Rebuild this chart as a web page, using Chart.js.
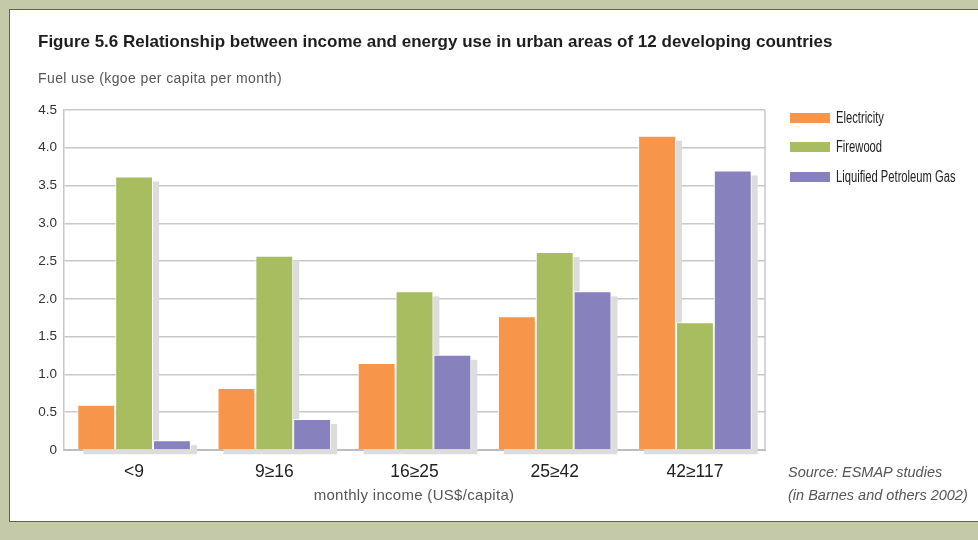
<!DOCTYPE html>
<html><head><meta charset="utf-8">
<script src="https://cdn.jsdelivr.net/npm/chart.js@4"></script>
<style>
html,body{margin:0;padding:0;background:#c4c9aa;width:978px;height:540px;overflow:hidden;}
#panel{position:absolute;left:9px;top:9px;width:990px;height:511px;background:#fff;border:1.5px solid #5b6a2e;}
#c{position:absolute;left:0;top:0;}
.t{position:absolute;white-space:nowrap;}
#title{left:38px;top:32px;font:bold 17px "Liberation Sans",Arial,sans-serif;color:#1e1e1e;}
#ytitle{left:38px;top:70px;font:14px "Liberation Sans",sans-serif;letter-spacing:0.4px;color:#555;}
#xtitle{left:414px;top:486px;transform:translateX(-50%);font:15px "Liberation Sans",sans-serif;letter-spacing:0.3px;color:#555;}
.lg{left:790px;font:16px "Liberation Sans",sans-serif;color:#222;}
.sw{display:inline-block;width:40px;height:10px;margin-right:6px;vertical-align:0px;}
.lt{display:inline-block;transform:scaleX(0.7);transform-origin:left center;}
#src{left:788px;top:461px;font:italic 14.5px "Liberation Sans",sans-serif;color:#555;line-height:23px;}
</style></head>
<body>
<div id="panel"></div>
<canvas id="c" width="978" height="540"></canvas>
<div class="t" id="title">Figure 5.6 Relationship between income and energy use in urban areas of 12 developing countries</div>
<div class="t" id="ytitle">Fuel use (kgoe per capita per month)</div>
<div class="t" id="xtitle">monthly income (US$/capita)</div>
<div id="legend"></div>
<div class="t" id="src">Source: ESMAP studies<br>(in Barnes and others 2002)</div>
<script>
const categories = ["<9", "9\u226516", "16\u226525", "25\u226542", "42\u2265117"];
const seriesNames = ["Electricity", "Firewood", "Liquified Petroleum Gas"];
const electricity = [0.60, 0.82, 1.15, 1.77, 4.16];
const firewood = [3.62, 2.57, 2.10, 2.62, 1.69];
const lpg = [0.13, 0.41, 1.26, 2.10, 3.70];
const yTicks = [0, 0.5, 1.0, 1.5, 2.0, 2.5, 3.0, 3.5, 4.0, 4.5];
const colors = ["#f7964a", "#a7bd5f", "#8781bd"];

const legend = document.getElementById('legend');
const legendTops = [109, 138, 168];
seriesNames.forEach((n,i)=>{
  const d=document.createElement('div');d.className='t lg';d.style.top=legendTops[i]+'px';
  d.innerHTML='<span class="sw" style="background:'+colors[i]+'"></span><span class="lt">'+n+'</span>';
  legend.appendChild(d);
});

const shadowPlugin = {
  id:'shadow',
  beforeDatasetsDraw(chart){
    const ctx=chart.ctx;ctx.save();ctx.fillStyle='#dcdcdc';
    chart.data.datasets.forEach((ds,i)=>{
      chart.getDatasetMeta(i).data.forEach(b=>{
        const p=b.getProps(['x','y','base','width'],true);
        ctx.fillRect(p.x-p.width/2+6,p.y+5,p.width,p.base-p.y);
      });
    });
    ctx.restore();
  },
  afterDraw(chart){
    const a=chart.chartArea,ctx=chart.ctx;ctx.save();
    ctx.strokeStyle='#c8c8c8';ctx.lineWidth=1.5;
    ctx.beginPath();ctx.moveTo(a.right,a.top);ctx.lineTo(a.right,a.bottom);ctx.stroke();
    ctx.restore();
  }
};

const dataArrays=[electricity,firewood,lpg];
new Chart(document.getElementById('c'),{
  type:'bar',
  data:{labels:categories,datasets:seriesNames.map((n,i)=>({label:n,data:dataArrays[i],backgroundColor:colors[i],borderColor:'#ffffff',borderWidth:1,barPercentage:1,categoryPercentage:0.81}))},
  options:{
    responsive:false,animation:false,
    layout:{padding:{left:0,top:110,right:213,bottom:0}},
    plugins:{legend:{display:false},tooltip:{enabled:false}},
    scales:{
      x:{grid:{display:false,drawTicks:false},border:{color:'#bdbdbd',width:2},
         ticks:{padding:12,color:'#222',font:{family:'"Liberation Sans",sans-serif',size:17.5}},
         afterFit(s){s.height=90;}},
      y:{min:0,max:4.5,afterBuildTicks(s){s.ticks=yTicks.map(v=>({value:v}));},
         grid:{color:'#c8c8c8',lineWidth:1.5,drawTicks:false},border:{color:'#c8c8c8',width:1.5},
         ticks:{padding:7,color:'#333',font:{family:'"Liberation Sans",sans-serif',size:13.5},
           callback:v=>v===0?'0':v.toFixed(1)},
         afterFit(s){s.width=64;}}
    }
  },
  plugins:[shadowPlugin]
});
</script>
</body></html>
